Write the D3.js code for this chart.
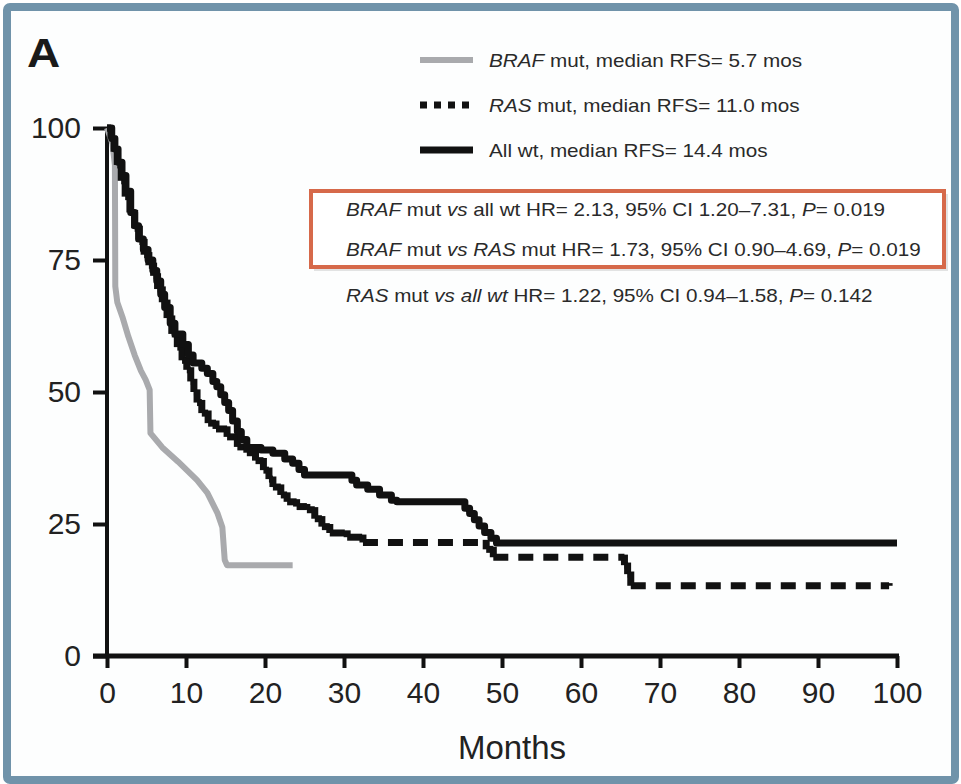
<!DOCTYPE html>
<html>
<head>
  <meta charset="utf-8">
  <title>RFS by mutation status</title>
  <script src="https://cdn.jsdelivr.net/npm/d3@7/dist/d3.min.js"></script>
  <style>
    html, body { margin: 0; padding: 0; background: #fff; }
    svg { display: block; font-family: "Liberation Sans", Arial, Helvetica, sans-serif; }
    .axis path, .axis line { stroke: #111; stroke-width: 4; }
    .axis text { fill: #222; font-size: 30px; }
    .legend text, .stats text { fill: #2a2a2a; }
  </style>
</head>
<body>
<svg id="chart" width="961" height="784"></svg>
<script>
  // months / survival (%)
  var brafMonths = [0, 0.7, 1.0, 1.05, 1.3, 2.0, 2.7, 3.5, 4.3, 4.9, 5.4, 5.5, 7.0, 9.0, 11.4, 12.7, 14.0, 14.6, 14.9, 15.2, 23.5];
  var brafSurv   = [100, 97, 93, 70, 67, 64, 60.5, 57, 54, 52.3, 50.4, 42.2, 39.5, 36.8, 33.3, 30.9, 27, 24.4, 18.2, 17.2, 17.2];

  var rasMonths = [0, 0.5, 0.9, 1.3, 1.8, 2.3, 2.9, 3.5, 4.1, 4.7, 5.3, 5.9, 6.4, 7.0, 7.6, 8.2, 8.9, 9.5, 10.1, 10.6, 11.0, 11.4, 12.0, 12.8, 13.8, 15.2, 16.5, 17.7, 18.8, 19.8, 20.5, 21.0, 22.0, 22.8, 24.0, 25.3, 26.3, 27.2, 28.2, 30.4, 32.4, 48.0, 48.9, 65.5, 65.9, 66.3, 99];
  var rasSurv   = [100, 98, 95.5, 93, 90, 87, 84, 81, 78.5, 76, 74, 72, 69.5, 67, 64, 61, 58.5, 56, 54.2, 52, 50, 48, 46, 44.1, 43, 41.5, 39.6, 38.5, 37, 35.2, 33.5, 32, 30.5, 29.2, 28.3, 27.7, 26, 24.5, 23.3, 22.5, 21.5, 20.2, 18.7, 17.2, 15.5, 13.3, 13.3];

  var wtMonths = [0, 0.6, 1.0, 1.4, 1.9, 2.4, 3.0, 3.5, 4.0, 4.6, 5.2, 5.8, 6.3, 6.8, 7.3, 8.0, 8.6, 9.6, 10.3, 10.9, 12.0, 12.7, 13.4, 13.9, 14.4, 14.9, 15.4, 15.9, 16.5, 17.0, 17.7, 19.5, 21.0, 22.5, 23.5, 24.3, 25.0, 30.4, 31.0, 31.6, 33.0, 34.5, 36.0, 36.7, 44.7, 45.3, 45.9, 46.5, 47.1, 47.8, 48.6, 49.3, 100];
  var wtSurv   = [100, 98, 96, 93.5, 91, 88, 84, 81.5, 79, 77, 75, 73, 71, 68.5, 66, 63, 61, 59, 57, 55.5, 54.5, 53.5, 52, 51, 49.5, 48, 46.5, 44.5, 42.5, 41, 39.5, 39, 38.4, 37.3, 36.5, 35.3, 34.3, 34.3, 33.3, 32.4, 31.6, 30.5, 29.5, 29.2, 29.2, 28, 27, 25.8, 24.6, 23.4, 22.3, 21.4, 21.4];

  var xTicks = [0, 10, 20, 30, 40, 50, 60, 70, 80, 90, 100];
  var yTicks = [0, 25, 50, 75, 100];

  var legendLabels = [
    [["BRAF", true], [" mut, median RFS= 5.7 mos", false]],
    [["RAS", true], [" mut, median RFS= 11.0 mos", false]],
    [["All wt, median RFS= 14.4 mos", false]]
  ];
  var statLines = [
    [["BRAF", true], [" mut ", false], ["vs", true], [" all wt HR= 2.13, 95% CI 1.20\u20137.31, ", false], ["P", true], ["= 0.019", false]],
    [["BRAF", true], [" mut ", false], ["vs", true], [" ", false], ["RAS", true], [" mut HR= 1.73, 95% CI 0.90\u20134.69, ", false], ["P", true], ["= 0.019", false]],
    [["RAS", true], [" mut ", false], ["vs all wt", true], [" HR= 1.22, 95% CI 0.94\u20131.58, ", false], ["P", true], ["= 0.142", false]]
  ];

  var svg = d3.select('#chart');

  // frame
  svg.append('rect')
    .attr('x', 7).attr('y', 7)
    .attr('width', 948).attr('height', 773)
    .attr('rx', 3)
    .attr('fill', '#fdfefe')
    .attr('stroke', '#7093aa')
    .attr('stroke-width', 8);

  svg.append('text')
    .attr('transform', 'translate(27,67) scale(1.15,1)')
    .attr('font-size', 40).attr('font-weight', 'bold')
    .attr('fill', '#1a1a1a')
    .text('A');

  var x = d3.scaleLinear().domain([0, 100]).range([107, 897]);
  var y = d3.scaleLinear().domain([0, 100]).range([656, 128]);

  var toPts = function(ms, ss) { return ms.map(function(m, i) { return [m, ss[i]]; }); };

  var lineLin = d3.line().x(function(d) { return x(d[0]); }).y(function(d) { return y(d[1]); });
  var lineStep = d3.line().x(function(d) { return x(d[0]); }).y(function(d) { return y(d[1]); })
    .curve(d3.curveStepAfter);

  // axes
  svg.append('g').attr('class', 'axis')
    .attr('transform', 'translate(107,0)')
    .call(d3.axisLeft(y).tickValues(yTicks).tickSize(14).tickSizeOuter(0).tickPadding(12))
    .call(function(g) { g.select('.domain').attr('d', 'M0,' + y(100) + 'V' + (y(0) + 2)); });

  svg.append('g').attr('class', 'axis')
    .attr('transform', 'translate(0,656)')
    .call(d3.axisBottom(x).tickValues(xTicks).tickSize(12).tickSizeOuter(0).tickPadding(14))
    .call(function(g) { g.select('.domain').attr('d', 'M93,0H' + (x(100) + 2)).style('stroke-width', 5); });

  svg.selectAll('.axis text').attr('fill', '#222');

  svg.append('text')
    .attr('x', 512).attr('y', 759)
    .attr('text-anchor', 'middle')
    .attr('font-size', 33).attr('fill', '#222')
    .text('Months');

  // curves
  svg.append('path').datum(toPts(brafMonths, brafSurv))
    .attr('d', lineLin)
    .attr('fill', 'none').attr('stroke', '#a9aaad').attr('stroke-width', 6)
    .attr('stroke-linejoin', 'round');

  // RAS: flat runs dotted, drops solid
  var rasPts = toPts(rasMonths, rasSurv);
  var rasRuns = [], rasDrops = [];
  for (var i = 0; i < rasPts.length - 1; i++) {
    rasRuns.push([rasPts[i], [rasPts[i + 1][0], rasPts[i][1]]]);
    rasDrops.push([[rasPts[i + 1][0], rasPts[i][1] + 0.5], [rasPts[i + 1][0], rasPts[i + 1][1]]]);
  }
  var ras = svg.append('g').attr('fill', 'none').attr('stroke', '#111').attr('stroke-width', 7);
  ras.selectAll('path.run').data(rasRuns).join('path').attr('class', 'run')
    .attr('d', lineLin).attr('stroke-dasharray', '15,10');
  ras.selectAll('path.drop').data(rasDrops).join('path').attr('class', 'drop')
    .attr('d', lineLin);

  svg.append('path').datum(toPts(wtMonths, wtSurv))
    .attr('d', lineStep)
    .attr('fill', 'none').attr('stroke', '#111').attr('stroke-width', 7)
    .attr('stroke-linejoin', 'round');

  // legend
  var legendStyles = [
    { stroke: '#a9aaad', width: 6, dash: null },
    { stroke: '#111', width: 7, dash: '7,7' },
    { stroke: '#111', width: 7, dash: null }
  ];
  var legend = svg.append('g').attr('class', 'legend');
  legendLabels.forEach(function(parts, i) {
    var cy = 60 + i * 45;
    legend.append('line')
      .attr('x1', 420).attr('x2', 473).attr('y1', cy).attr('y2', cy)
      .attr('stroke', legendStyles[i].stroke)
      .attr('stroke-width', legendStyles[i].width)
      .attr('stroke-dasharray', legendStyles[i].dash);
    var t = legend.append('text')
      .attr('transform', 'translate(489,' + (cy + 7) + ') scale(1.15,1)')
      .attr('font-size', 18);
    parts.forEach(function(p) {
      t.append('tspan').attr('font-style', p[1] ? 'italic' : null).text(p[0]);
    });
  });

  // hazard ratio box
  svg.append('rect')
    .attr('x', 314).attr('y', 194).attr('width', 634).attr('height', 77)
    .attr('fill', '#c8c8c8').attr('opacity', 0.5);
  svg.append('rect')
    .attr('x', 311).attr('y', 191).attr('width', 633).attr('height', 76)
    .attr('fill', '#fff')
    .attr('stroke', '#d6694a').attr('stroke-width', 4);

  var stats = svg.append('g').attr('class', 'stats');
  statLines.forEach(function(parts, i) {
    var t = stats.append('text')
      .attr('transform', 'translate(346,' + [216, 256, 302][i] + ') scale(1.18,1)')
      .attr('font-size', 17.5);
    parts.forEach(function(p) {
      t.append('tspan').attr('font-style', p[1] ? 'italic' : null).text(p[0]);
    });
  });
</script>
</body>
</html>
